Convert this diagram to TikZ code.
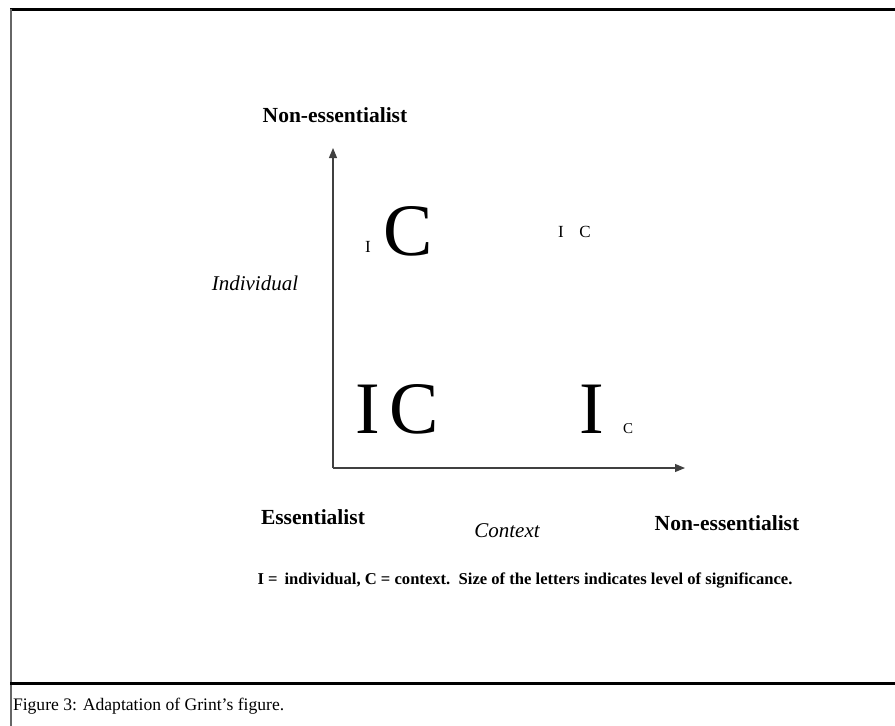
\documentclass[tikz,border=0pt]{standalone}
\usepackage{fontspec}
\setmainfont{Liberation Serif}
\usetikzlibrary{arrows.meta}
\begin{document}
\begin{tikzpicture}[x=1pt,y=-1pt,
  lbl/.style={inner sep=0pt,outer sep=0pt},
  boldlbl/.style={lbl,font=\fontsize{21.5}{25}\selectfont\bfseries},
  itlbl/.style={lbl,font=\fontsize{21}{25}\selectfont\itshape},
  biglet/.style={lbl,anchor=base,font=\fontsize{74}{80}\selectfont},
  smalllet/.style={lbl,anchor=base,font=\fontsize{17}{19}\selectfont},
  frameline/.style={line width=3pt,black},
  axis/.style={line width=1.1pt,black!75,-{Triangle[length=10pt,width=8pt]}}]
\useasboundingbox (0,0) rectangle (895,726);
% frame
\coordinate (tl) at (10,9);
\coordinate (tr) at (895,9);
\coordinate (bl) at (11,726);
\coordinate (sl) at (10,683);
\coordinate (sr) at (895,683);
\draw[frameline] (tl) -- (tr);
\draw[line width=1.5pt,black!60] (11,9) -- (bl);
\draw[frameline] (sl) -- (sr);
% axes
\coordinate (O) at (333,468);
\coordinate (ytop) at (333,148);
\coordinate (xend) at (685,468);
\draw[axis] (O) -- (ytop);
\draw[axis] (O) -- (xend);
% labels
\node[boldlbl] (netop) at (335,115) {Non-essentialist};
\node[itlbl] (indiv) at (255,283) {Individual};
\node[boldlbl] (ess) at (313,517) {Essentialist};
\node[itlbl] (ctx) at (507,531) {Context};
\node[boldlbl] (neright) at (727,523) {Non-essentialist};
% letters
\node[smalllet] (sI1) at (368,252) {I};
\node[biglet] (bC1) at (408,255) {C};
\node[smalllet] (sI2) at (561,237) {I};
\node[smalllet] (sC2) at (585,237) {C};
\node[biglet] (bI3) at (368,433) {I};
\node[biglet] (bC3) at (414,433) {C};
\node[biglet] (bI4) at (592,433) {I};
\node[lbl,anchor=base,font=\fontsize{15}{17}\selectfont] (sC4) at (628,433) {C};
% legend
\node[lbl,font=\fontsize{16.6}{19}\selectfont\bfseries] (legend) at (525,580) {I =\, individual, C = context.\ \ Size of the letters indicates level of significance.};
% caption
\node[lbl,anchor=west,font=\fontsize{17.6}{20}\selectfont] (caption) at (13,706) {Figure 3: Adaptation of Grint’s figure.};
\end{tikzpicture}
\end{document}
